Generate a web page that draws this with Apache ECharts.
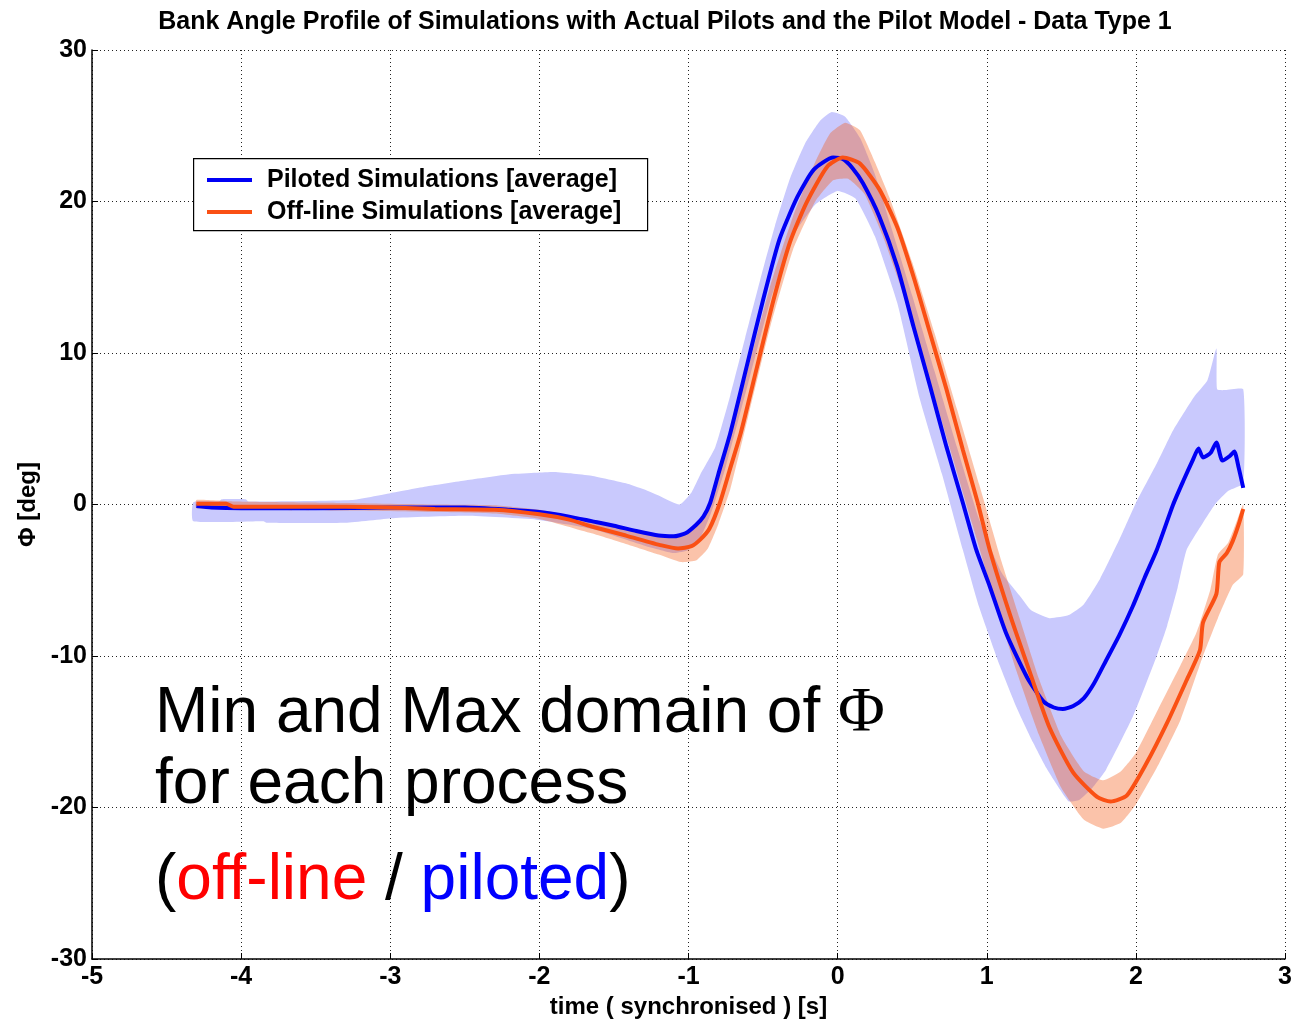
<!DOCTYPE html>
<html><head><meta charset="utf-8">
<script src="https://cdn.jsdelivr.net/npm/echarts@6/dist/echarts.min.js"></script>
<style>html,body{margin:0;padding:0;background:#fff}#c{width:1291px;height:1021px}</style>
</head><body><div id="c"></div>
<script>
// ---- data (time in s, bank angle in deg) ----
const titleText = 'Bank Angle Profile of Simulations with Actual Pilots and the Pilot Model - Data Type 1';
const xAxisName = 'time ( synchronised ) [s]';
const yAxisName = 'Φ [deg]';
const seriesNames = ['Piloted Simulations [average]', 'Off-line Simulations [average]'];

const pilotedT = [-4.30,-4.2,-4.0,-3.5,-3.0,-2.5,-2.2,-2.0,-1.8,-1.65,-1.5,-1.35,-1.2,-1.1,-1.02,-0.95,-0.9,-0.855,-0.8,-0.72,-0.61,-0.50,-0.39,-0.27,-0.16,-0.03,0.035,0.10,0.17,0.28,0.40,0.51,0.62,0.73,0.84,0.93,1.02,1.13,1.27,1.38,1.45,1.51,1.58,1.65,1.72,1.80,1.89,1.98,2.06,2.14,2.25,2.32,2.38,2.42,2.45,2.50,2.54,2.58,2.63,2.66,2.69,2.72];
const pilotedMean = [-0.1,-0.2,-0.25,-0.25,-0.2,-0.2,-0.35,-0.5,-0.8,-1.1,-1.4,-1.75,-2.05,-2.1,-1.9,-1.35,-0.8,0.1,2.0,4.7,9.1,13.5,17.5,20.3,22.1,22.9,22.8,22.2,21.2,19.0,15.7,11.7,7.8,3.8,0.1,-3.0,-5.4,-8.5,-11.4,-13.0,-13.4,-13.5,-13.3,-12.8,-11.8,-10.3,-8.6,-6.7,-4.8,-3.0,0.0,1.6,2.9,3.7,3.1,3.4,4.1,2.9,3.2,3.5,2.4,1.1];

const offlineT = [-4.30,-4.1,-4.05,-3.3,-3.0,-2.7,-2.3,-2.0,-1.8,-1.65,-1.42,-1.18,-1.07,-0.98,-0.92,-0.86,-0.79,-0.72,-0.65,-0.54,-0.43,-0.32,-0.21,-0.07,0.035,0.15,0.28,0.40,0.51,0.62,0.73,0.84,0.94,1.02,1.16,1.29,1.42,1.58,1.74,1.83,1.94,2.07,2.21,2.34,2.43,2.45,2.54,2.56,2.61,2.65,2.69,2.72];
const offlineMean = [0.05,0.05,-0.15,-0.15,-0.2,-0.3,-0.35,-0.65,-1.0,-1.45,-2.05,-2.7,-2.9,-2.75,-2.3,-1.6,0.1,2.4,4.7,9.1,13.5,17.3,19.9,22.3,22.9,22.5,20.8,18.3,15.0,11.3,7.6,3.6,0.1,-3.0,-7.4,-11.1,-14.7,-17.7,-19.3,-19.6,-19.2,-17.1,-14.4,-11.6,-9.6,-7.8,-5.9,-3.8,-3.2,-2.4,-1.3,-0.3];

const pilotedMaxT = [-4.32,-4.15,-4.13,-3.97,-3.95,-3.26,-3.0,-2.75,-2.49,-2.2,-2.02,-1.9,-1.78,-1.65,-1.42,-1.3,-1.18,-1.06,-0.98,-0.92,-0.82,-0.72,-0.62,-0.52,-0.42,-0.32,-0.22,-0.12,-0.04,0.05,0.15,0.25,0.35,0.5,0.65,0.8,0.95,1.1,1.22,1.3,1.42,1.55,1.65,1.76,1.89,2.0,2.14,2.25,2.39,2.48,2.54,2.545,2.6,2.72];
const pilotedMax = [0.15,0.2,0.35,0.35,0.2,0.3,0.75,1.2,1.6,2.0,2.1,2.15,2.05,1.9,1.4,1.0,0.5,0.0,0.8,2.0,3.8,7.2,11.0,14.8,18.4,21.5,23.8,25.3,25.9,25.6,24.2,21.8,18.6,13.8,8.8,3.8,-1.0,-4.5,-6.0,-7.0,-7.5,-7.3,-6.6,-4.9,-2.3,0.1,2.7,4.9,7.1,8.2,10.3,7.6,7.55,7.6];
const pilotedMinT = [-4.32,-3.85,-3.83,-3.3,-2.98,-2.49,-2.02,-1.65,-1.3,-1.1,-1.0,-0.92,-0.85,-0.75,-0.6,-0.45,-0.3,-0.15,0.0,0.12,0.25,0.4,0.55,0.7,0.84,0.95,1.09,1.2,1.31,1.4,1.49,1.55,1.62,1.7,1.8,1.98,2.14,2.21,2.28,2.34,2.45,2.53,2.62,2.72];
const pilotedMin = [-1.1,-1.1,-1.2,-1.2,-0.9,-0.75,-1.0,-1.6,-2.7,-3.2,-3.0,-2.2,-0.6,2.5,8.0,13.5,17.7,19.8,20.7,20.2,17.7,13.3,7.0,2.0,-3.0,-6.8,-10.7,-13.4,-15.7,-17.4,-18.8,-19.6,-19.5,-18.8,-17.5,-14.0,-10.0,-8.0,-5.5,-3.0,-1.2,0.0,0.9,1.4];

const offlineMaxT = [-4.30,-4.05,-3.3,-2.7,-2.3,-2.0,-1.65,-1.42,-1.2,-1.07,-0.97,-0.9,-0.83,-0.75,-0.6,-0.45,-0.3,-0.15,-0.05,0.05,0.15,0.25,0.35,0.5,0.65,0.8,0.95,1.1,1.22,1.35,1.5,1.65,1.78,1.9,2.0,2.15,2.3,2.4,2.43,2.5,2.55,2.62,2.68,2.72];
const offlineMax = [0.3,0.2,0.1,0.0,-0.05,-0.35,-1.0,-1.5,-2.0,-2.1,-1.7,-0.9,0.8,3.5,9.0,14.5,19.0,22.6,24.5,25.2,24.7,22.6,20.2,16.0,11.3,6.3,1.3,-3.8,-7.5,-11.5,-15.3,-17.6,-18.2,-17.6,-16.4,-13.5,-10.6,-8.6,-7.8,-5.6,-3.3,-2.5,-1.0,0.0];
const offlineMinT = [-4.30,-4.05,-3.3,-2.7,-2.3,-2.0,-1.65,-1.42,-1.2,-1.05,-0.95,-0.87,-0.8,-0.72,-0.6,-0.45,-0.3,-0.15,-0.03,0.07,0.18,0.3,0.45,0.6,0.75,0.9,1.05,1.2,1.35,1.5,1.65,1.78,1.9,2.0,2.15,2.3,2.45,2.55,2.65,2.72];
const offlineMin = [-0.25,-0.35,-0.4,-0.5,-0.6,-0.95,-1.9,-2.6,-3.3,-3.8,-3.7,-2.9,-1.3,1.0,5.8,11.8,16.8,20.0,21.4,21.5,20.5,17.8,13.6,8.8,3.8,-1.2,-6.2,-11.0,-15.2,-18.7,-20.8,-21.4,-21.0,-19.8,-17.2,-14.2,-10.0,-7.5,-5.3,-4.6];

const xMin = -5, xMax = 3, xStep = 1;
const yMin = -30, yMax = 30, yStep = 10;

// ---- styles ----
const BLUE = '#0000f5';
const ORANGE = '#fa5014';
const BLUE_BAND = '#c9c9fd';
const ORANGE_BAND = 'rgba(245,90,20,0.36)';
const FONT = '"Liberation Sans", Arial, sans-serif';

const zip = (t, v) => t.map((x, i) => [x, v[i]]);

function band(name, upT, upV, loT, loV, fill, z) {
  return {
    type: 'custom', name: name, z: z, silent: true, clip: true,
    data: [[upT[0], upV[0]]],
    renderItem: function (params, api) {
      const pts = [];
      for (let i = 0; i < upT.length; i++) pts.push(api.coord([upT[i], upV[i]]));
      for (let i = loT.length - 1; i >= 0; i--) pts.push(api.coord([loT[i], loV[i]]));
      return { type: 'polygon', shape: { points: pts, smooth: 0.15 }, style: { fill: fill, stroke: null } };
    }
  };
}

const chart = echarts.init(document.getElementById('c'), null, { renderer: 'canvas' });
chart.setOption({
  animation: false,
  backgroundColor: '#fff',
  title: {
    text: titleText, left: 660, top: 5, textAlign: 'center',
    textStyle: { fontFamily: FONT, fontWeight: 'bold', fontSize: 25, color: '#000' }
  },
  grid: { left: 92, right: 6, top: 50, bottom: 62, containLabel: false, outerBoundsMode: 'none' },
  xAxis: {
    type: 'value', min: xMin, max: xMax, interval: xStep,
    name: xAxisName, nameLocation: 'middle', nameGap: 36,
    nameTextStyle: { fontFamily: FONT, fontWeight: 'bold', fontSize: 24, color: '#000' },
    axisLine: { onZero: false, lineStyle: { color: '#000', width: 1.5 } },
    axisTick: { inside: true, length: 6, lineStyle: { color: '#000' } },
    axisLabel: { fontFamily: FONT, fontWeight: 'bold', fontSize: 25, color: '#000', margin: 6 },
    splitLine: { show: true, lineStyle: { type: [1, 3], color: '#222', width: 1 } }
  },
  yAxis: {
    type: 'value', min: yMin, max: yMax, interval: yStep,
    name: yAxisName, nameLocation: 'middle', nameGap: 50, nameRotate: 90,
    nameTextStyle: { fontFamily: FONT, fontWeight: 'bold', fontSize: 24, color: '#000' },
    axisLine: { onZero: false, lineStyle: { color: '#000', width: 1.5 } },
    axisTick: { show: true, inside: true, length: 6, lineStyle: { color: '#000' } },
    axisLabel: { fontFamily: FONT, fontWeight: 'bold', fontSize: 25, color: '#000', margin: 5 },
    splitLine: { show: true, lineStyle: { type: [1, 3], color: '#222', width: 1 } }
  },
  legend: {
    data: seriesNames, orient: 'vertical', left: 193, top: 158,
    padding: [9, 14, 5, 14], itemGap: 6, itemWidth: 45, itemHeight: 4, icon: 'rect',
    textStyle: { fontFamily: FONT, fontWeight: 'bold', fontSize: 25, color: '#000', lineHeight: 26, padding: [0, 0, 0, 10] },
    z: 20
  },
  graphic: [
    { type: 'rect', left: 193, top: 158, z: 15, shape: { width: 454, height: 72 },
      style: { fill: '#fff', stroke: '#000', lineWidth: 1.2 } },
    { type: 'text', left: 155, top: 682, z: 30, style: {
        text: '{a|Min and Max domain of }{p|Φ}',
        rich: { a: { fontFamily: FONT, fontSize: 64, fill: '#000' },
                p: { fontFamily: '"Liberation Serif", "DejaVu Serif", serif', fontSize: 64, fill: '#000' } } } },
    { type: 'text', left: 155, top: 753, z: 30, style: {
        text: 'for each process', font: '64px ' + FONT, fill: '#000' } },
    { type: 'text', left: 155, top: 849, z: 30, style: {
        text: '{a|(}{r|off-line}{a| / }{b|piloted}{a|)}',
        rich: { a: { fontFamily: FONT, fontSize: 64, fill: '#000' },
                r: { fontFamily: FONT, fontSize: 64, fill: '#ff0000' },
                b: { fontFamily: FONT, fontSize: 64, fill: '#0000ff' } } } }
  ],
  series: [
    band('pilotedBand', pilotedMaxT, pilotedMax, pilotedMinT, pilotedMin, BLUE_BAND, 1),
    band('offlineBand', offlineMaxT, offlineMax, offlineMinT, offlineMin, ORANGE_BAND, 2),
    { type: 'line', name: seriesNames[0], data: zip(pilotedT, pilotedMean), symbol: 'none', z: 3, smooth: 0.2,
      color: BLUE, lineStyle: { color: BLUE, width: 4 } },
    { type: 'line', name: seriesNames[1], data: zip(offlineT, offlineMean), symbol: 'none', z: 4, smooth: 0.2,
      color: ORANGE, lineStyle: { color: ORANGE, width: 4 } }
  ]
});
</script></body></html>
